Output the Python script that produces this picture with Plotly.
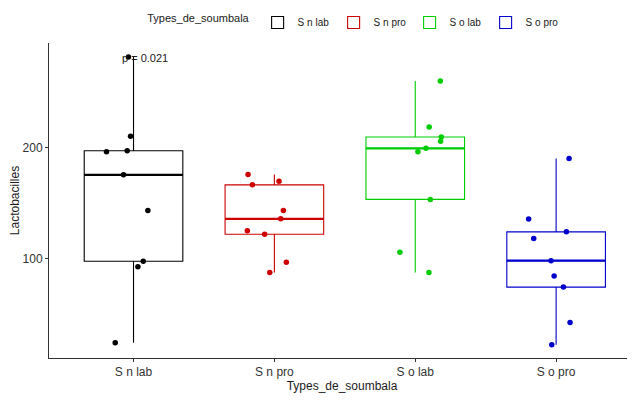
import numpy as np
import plotly.graph_objects as go

# ---- data ----
groups = ["S n lab", "S n pro", "S o lab", "S o pro"]
colors = ["#000000", "#CD0000", "#00CD00", "#0000CD"]

vals_snlab = [281, 210, 196, 197, 175.4, 143.5, 98, 93, 25]
vals_snpro = [175.7, 166.4, 169.6, 143.5, 136, 125.2, 122.2, 97, 88]
vals_solab = [259.5, 218.3, 209.3, 205.4, 199.1, 153.4, 88, 196.1, 106]
vals_sopro = [190.1, 135.8, 118.3, 124.3, 98.5, 84.7, 74.8, 43, 23.2]

# horizontal jitter of each point (category units)
jit_snlab = [-0.036, -0.021, -0.192, -0.045, -0.071, 0.102, 0.069, 0.031, -0.130]
jit_snpro = [-0.187, -0.156, 0.033, 0.064, 0.045, -0.192, -0.069, 0.085, -0.033]
jit_solab = [0.178, 0.099, 0.185, 0.180, 0.076, 0.107, 0.097, 0.019, -0.109]
jit_sopro = [0.092, -0.195, -0.159, 0.073, -0.036, -0.014, 0.052, 0.099, -0.031]

p_label = "p = 0.021"
y_ticks = [100, 200]

all_vals = [vals_snlab, vals_snpro, vals_solab, vals_sopro]
all_jit = [jit_snlab, jit_snpro, jit_solab, jit_sopro]

BOX_W = 0.7
fig = go.Figure()

for i, (g, c, v, j) in enumerate(zip(groups, colors, all_vals, all_jit)):
    pos = i + 1
    arr = np.array(v, dtype=float)
    q1, med, q3 = np.percentile(arr, [25, 50, 75])
    iqr = q3 - q1
    lo = arr[arr >= q1 - 1.5 * iqr].min()
    hi = arr[arr <= q3 + 1.5 * iqr].max()
    fig.add_trace(go.Box(
        x=[pos], q1=[q1], median=[med], q3=[q3], lowerfence=[lo], upperfence=[hi],
        name=g, width=BOX_W, whiskerwidth=0, boxpoints=False,
        line=dict(color=c, width=1.1), fillcolor="white",
        legendgroup=g, showlegend=True, hoverinfo="skip",
    ))
    # thicker median line (ggplot fatten)
    fig.add_trace(go.Scatter(
        x=[pos - BOX_W / 2, pos + BOX_W / 2], y=[med, med], mode="lines",
        line=dict(color=c, width=2.2), showlegend=False, hoverinfo="skip",
        legendgroup=g,
    ))
    fig.add_trace(go.Scatter(
        x=[pos + dj for dj in j], y=v, mode="markers",
        marker=dict(color=c, size=5.5), showlegend=False, legendgroup=g,
    ))

fig.add_annotation(x=1.083, y=280.5, text=p_label, showarrow=False,
                   xref="x", yref="y", font=dict(size=11, color="#1a1a1a"))

# page body has an 8px default margin, so the figure is sized to fit the window
fig.update_layout(
    width=627, height=385,
    margin=dict(l=41, r=0, t=35, b=35, autoexpand=False),
    plot_bgcolor="white", paper_bgcolor="white",
    font=dict(family="Liberation Sans, Arial, sans-serif", color="#1a1a1a"),
    showlegend=True,
    legend=dict(
        orientation="h", x=0.52, xanchor="center", xref="paper",
        y=1.111, yanchor="top", yref="paper",
        title=dict(text="Types_de_soumbala", font=dict(size=11), side="left"),
        font=dict(size=10), itemwidth=30, tracegroupgap=0,
        entrywidth=31, entrywidthmode="pixels",
    ),
)
fig.update_xaxes(
    range=[0.4, 4.56], tickvals=[1, 2, 3, 4], ticktext=groups,
    showline=True, linecolor="#333333", linewidth=1,
    ticks="outside", ticklen=3, tickcolor="#333333",
    showgrid=False, zeroline=False, automargin=False,
    tickfont=dict(size=12, color="#333333"),
    title=dict(text="Types_de_soumbala", font=dict(size=12), standoff=2),
)
fig.update_yaxes(
    range=[11.3, 293.5], tickvals=y_ticks,
    showline=True, linecolor="#333333", linewidth=1,
    ticks="outside", ticklen=3, tickcolor="#333333",
    showgrid=False, zeroline=False, automargin=False,
    tickfont=dict(size=12, color="#333333"),
    title=dict(text="Lactobacilles", font=dict(size=12), standoff=2),
)

fig.write_html("out.html")
